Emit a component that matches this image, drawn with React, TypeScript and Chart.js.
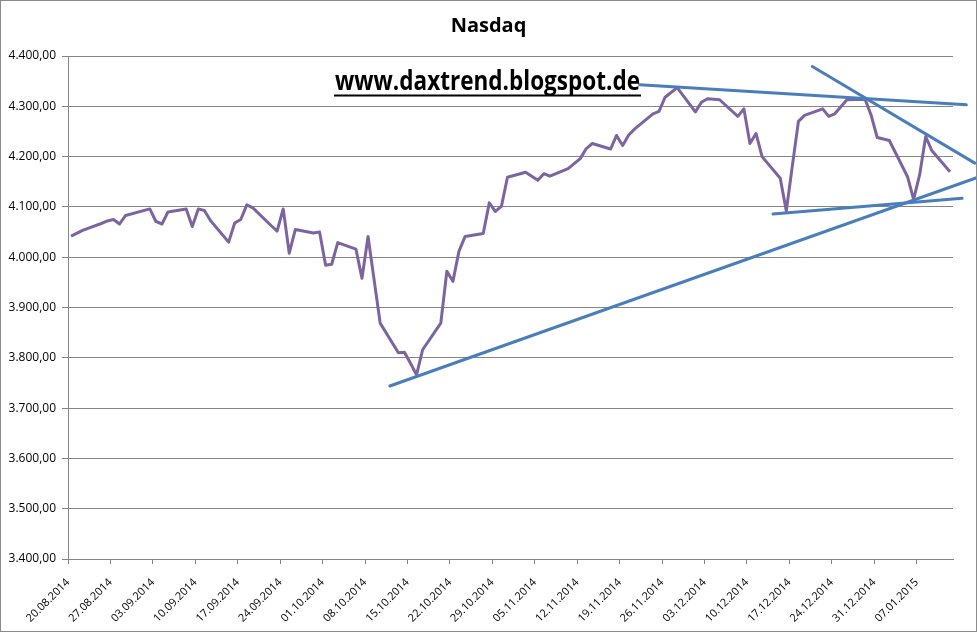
import { useEffect, useRef } from 'react';
import { Chart, registerables } from 'chart.js';

Chart.register(...registerables);

// ---- data ----
const dates = [
  '20.08.2014', '21.08.2014', '22.08.2014', '25.08.2014', '26.08.2014', '27.08.2014', '28.08.2014', '29.08.2014',
  '02.09.2014', '03.09.2014', '04.09.2014', '05.09.2014', '08.09.2014', '09.09.2014', '10.09.2014', '11.09.2014', '12.09.2014',
  '15.09.2014', '16.09.2014', '17.09.2014', '18.09.2014', '19.09.2014', '22.09.2014', '23.09.2014', '24.09.2014', '25.09.2014',
  '26.09.2014', '29.09.2014', '30.09.2014',
  '01.10.2014', '02.10.2014', '03.10.2014', '06.10.2014', '07.10.2014', '08.10.2014', '09.10.2014', '10.10.2014',
  '13.10.2014', '14.10.2014', '15.10.2014', '16.10.2014', '17.10.2014', '20.10.2014', '21.10.2014', '22.10.2014',
  '23.10.2014', '24.10.2014', '27.10.2014', '28.10.2014', '29.10.2014', '30.10.2014', '31.10.2014',
  '03.11.2014', '04.11.2014', '05.11.2014', '06.11.2014', '07.11.2014', '10.11.2014', '11.11.2014', '12.11.2014',
  '13.11.2014', '14.11.2014', '17.11.2014', '18.11.2014', '19.11.2014', '20.11.2014', '21.11.2014', '24.11.2014',
  '25.11.2014', '26.11.2014', '28.11.2014',
  '01.12.2014', '02.12.2014', '03.12.2014', '04.12.2014', '05.12.2014', '08.12.2014', '09.12.2014', '10.12.2014',
  '11.12.2014', '12.12.2014', '15.12.2014', '16.12.2014', '17.12.2014', '18.12.2014', '19.12.2014', '22.12.2014',
  '23.12.2014', '24.12.2014', '26.12.2014', '29.12.2014', '30.12.2014', '31.12.2014',
  '02.01.2015', '05.01.2015', '06.01.2015', '07.01.2015', '08.01.2015', '09.01.2015', '12.01.2015',
];

const closes = [
  4042, 4048, 4054, 4067, 4072, 4075, 4066, 4083,
  4096, 4071, 4066, 4090, 4096, 4061, 4096, 4093, 4073,
  4030, 4068, 4075, 4104, 4098, 4063, 4052, 4096, 4008,
  4055, 4048, 4050,
  3984, 3986, 4029, 4016, 3958, 4041, 3955, 3869,
  3810, 3811, 3789, 3766, 3816, 3869, 3972, 3952,
  4012, 4041, 4047, 4108, 4091, 4101, 4159,
  4169, 4161, 4153, 4166, 4161, 4176, 4186, 4196,
  4216, 4226, 4215, 4242, 4222, 4243, 4255, 4285,
  4290, 4318, 4337,
  4289, 4308, 4315, 4314, 4313, 4280, 4295, 4226,
  4246, 4200, 4157, 4092, 4182, 4270, 4282, 4295,
  4280, 4285, 4313, 4314, 4282, 4238,
  4232, 4160, 4115, 4164, 4240, 4212, 4170,
];

const tickLabels = [
  '20.08.2014', '27.08.2014', '03.09.2014', '10.09.2014', '17.09.2014', '24.09.2014', '01.10.2014',
  '08.10.2014', '15.10.2014', '22.10.2014', '29.10.2014', '05.11.2014', '12.11.2014', '19.11.2014',
  '26.11.2014', '03.12.2014', '10.12.2014', '17.12.2014', '24.12.2014', '31.12.2014', '07.01.2015',
];

const yMin = 3400;
const yMax = 4400;
const yStep = 100;

// hand-drawn trend lines: [day offset from first date, index value]
const trendRising = [[52.6, 3744], [149.4, 4158]];
const trendTop = [[93.8, 4343], [147.7, 4303]];
const trendFalling = [[122.3, 4379], [149.1, 4187]];
const trendBottom = [[115.8, 4086], [147.0, 4117]];

const siteText = 'www.daxtrend.blogspot.de';
const titleText = 'Nasdaq';

// ---- helpers ----
const parseDate = (s: string) => {
  const [d, m, y] = s.split('.').map(Number);
  return Date.UTC(y, m - 1, d);
};
const DAY = 86400000;
const origin = parseDate(dates[0]);
const dayIndex = (s: string) => Math.round((parseDate(s) - origin) / DAY);

const fmtDe = (v: number) => {
  const int = Math.round(v).toString().replace(/\B(?=(\d{3})+(?!\d))/g, '.');
  return int + ',00';
};

const FONT = "'Open Sans', 'DejaVu Sans', sans-serif";
const GRID = '#868686';
const PURPLE = '#7d64a1';
const BLUE = '#4a7ebb';

const overlayPlugin = {
  id: 'overlay',
  beforeDraw(chart: any) {
    const ctx = chart.ctx;
    ctx.save();
    ctx.fillStyle = '#ffffff';
    ctx.fillRect(0, 0, chart.width, chart.height);
    ctx.restore();
  },
  afterDraw(chart: any) {
    const ctx = chart.ctx;
    ctx.save();
    ctx.strokeStyle = '#8c8c8c';
    ctx.lineWidth = 1;
    ctx.strokeRect(0.5, 0.5, chart.width - 1, chart.height - 1);

    ctx.font = `bold 26px ${FONT}`;
    const w = ctx.measureText(siteText).width;
    const targetW = 305;
    const x0 = 335;
    const base = 89.5;
    ctx.fillStyle = '#000000';
    ctx.textBaseline = 'alphabetic';
    ctx.translate(x0, base);
    ctx.scale(targetW / w, 1);
    ctx.fillText(siteText, 0, 0);
    ctx.setTransform(1, 0, 0, 1, 0, 0);
    ctx.fillRect(x0 - 1, base + 5, targetW + 2, 2);
    ctx.restore();
  },
};

const trendDataset = (pts: number[][]) => ({
  type: 'line' as const,
  data: pts.map(([x, y]) => ({ x, y })),
  borderColor: BLUE,
  borderWidth: 3,
  pointRadius: 0,
  clip: false as any,
  order: 0,
  borderCapStyle: 'round' as const,
});

export default function App() {
  const ref = useRef<HTMLCanvasElement | null>(null);

  useEffect(() => {
    if (!ref.current) return;
    const lastDay = dayIndex(dates[dates.length - 1]);
    const tickPos = tickLabels.map((t) => dayIndex(t) - 0.5);

    const chart = new Chart(ref.current, {
      type: 'line',
      data: {
        datasets: [
          {
            data: dates.map((d, i) => ({ x: dayIndex(d), y: closes[i] })),
            borderColor: PURPLE,
            borderWidth: 3,
            pointRadius: 0,
            tension: 0,
            order: 1,
            borderJoinStyle: 'round',
          },
          trendDataset(trendRising),
          trendDataset(trendTop),
          trendDataset(trendFalling),
          trendDataset(trendBottom),
        ] as any,
      },
      options: {
        responsive: false,
        animation: false,
        layout: { padding: 0 },
        plugins: {
          legend: { display: false },
          tooltip: { enabled: false },
          title: {
            display: true,
            text: titleText,
            color: '#000000',
            font: { family: FONT, size: 20, weight: 'bold' },
            padding: { top: 14, bottom: 18 },
          },
        },
        scales: {
          x: {
            type: 'linear',
            min: -0.5,
            max: lastDay + 0.5,
            afterBuildTicks: (s: any) => {
              s.ticks = tickPos.map((v) => ({ value: v }));
            },
            ticks: {
              autoSkip: false,
              minRotation: 45,
              maxRotation: 45,
              padding: 12,
              color: '#000000',
              font: { family: FONT, size: 11 },
              callback: (_v: any, i: number) => tickLabels[i],
            },
            grid: { drawOnChartArea: false, drawTicks: true, tickLength: 5, color: GRID },
            border: { color: GRID },
            afterFit: (s: any) => {
              s.height = 73;
            },
          },
          y: {
            min: yMin,
            max: yMax,
            ticks: {
              stepSize: yStep,
              padding: 6,
              color: '#000000',
              font: { family: FONT, size: 12 },
              callback: (v: any) => fmtDe(Number(v)),
            },
            grid: { color: GRID, tickLength: 6 },
            border: { color: GRID },
            afterFit: (s: any) => {
              s.width = 68;
            },
          },
          yRight: {
            position: 'right',
            display: true,
            grid: { display: false },
            border: { display: false },
            ticks: { display: false },
            afterFit: (s: any) => {
              s.width = 24;
            },
          },
        },
      } as any,
      plugins: [overlayPlugin],
    });
    return () => chart.destroy();
  }, []);

  return (
    <div style={{ position: 'absolute', left: 0, top: 0, width: 977, height: 632 }}>
      <canvas ref={ref} width={977} height={632} style={{ display: 'block' }} />
    </div>
  );
}
